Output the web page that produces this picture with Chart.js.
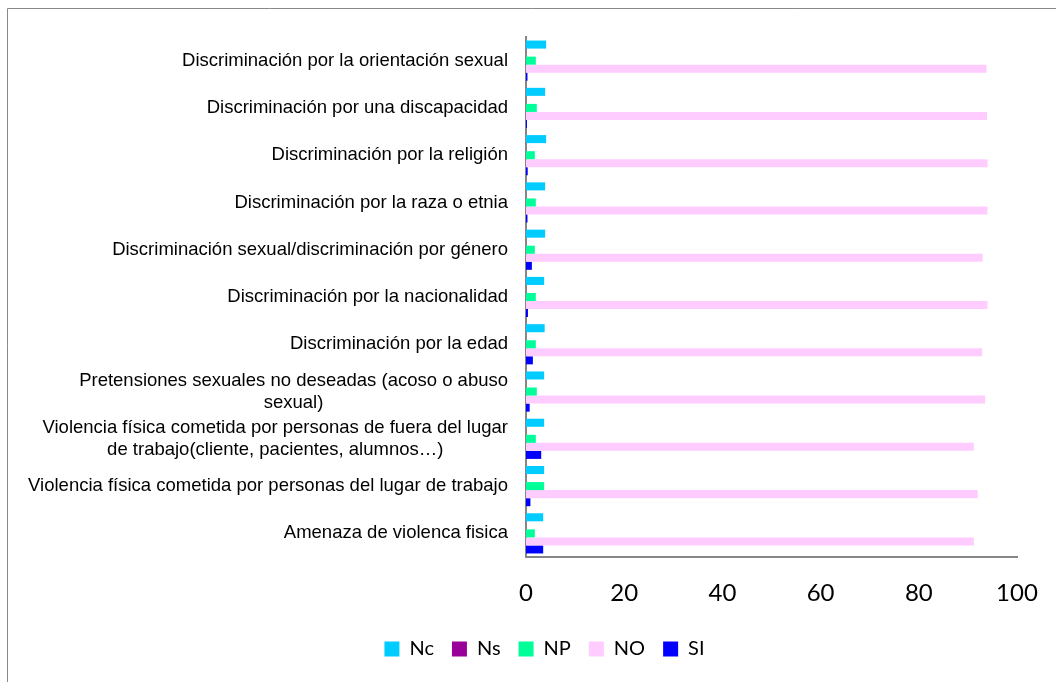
<!DOCTYPE html>
<html>
<head>
<meta charset="utf-8">
<script src="https://cdn.jsdelivr.net/npm/chart.js@4/dist/chart.umd.min.js"></script>
<style>
  html, body { margin: 0; padding: 0; background: #fff; }
  #wrap { position: relative; width: 1056px; height: 682px; }
</style>
</head>
<body>
<div id="wrap"><canvas id="c"></canvas></div>
<script>
// Categories, top to bottom
const categories = [
  'Discriminación por la orientación sexual',
  'Discriminación por una discapacidad',
  'Discriminación por la religión',
  'Discriminación por la raza o etnia',
  'Discriminación sexual/discriminación por género',
  'Discriminación por la nacionalidad',
  'Discriminación por la edad',
  ['Pretensiones sexuales no deseadas (acoso o abuso', 'sexual)'],
  ['Violencia física cometida por personas de fuera del lugar', 'de trabajo(cliente, pacientes, alumnos…)'],
  'Violencia física cometida por personas del lugar de trabajo',
  'Amenaza de violenca fisica'
];

// Series values (%)
const ncValues = [4.1, 3.9, 4.1, 3.9, 3.9, 3.7, 3.8, 3.7, 3.7, 3.7, 3.5];
const nsValues = [0, 0, 0, 0, 0, 0, 0, 0, 0, 0, 0];
const npValues = [2.0, 2.2, 1.8, 2.0, 1.8, 2.0, 2.0, 2.2, 2.0, 3.7, 1.8];
const noValues = [93.8, 93.9, 94.0, 94.0, 93.0, 94.0, 92.9, 93.5, 91.2, 92.0, 91.2];
const siValues = [0.3, 0.2, 0.35, 0.3, 1.2, 0.4, 1.4, 0.75, 3.1, 0.9, 3.5];

const seriesNames = ['Nc', 'Ns', 'NP', 'NO', 'SI'];
const xTicks = [0, 20, 40, 60, 80, 100];

const colors = ['#00CCFF', '#990099', '#00FF99', '#FFCCFF', '#0000FF'];
const seriesValues = [ncValues, nsValues, npValues, noValues, siValues];

// Outer frame of the chart object
const framePlugin = {
  id: 'frame',
  beforeDraw(chart) {
    const ctx = chart.ctx;
    ctx.save();
    ctx.strokeStyle = '#888888';
    ctx.lineWidth = 1;
    ctx.beginPath();
    ctx.moveTo(7.5, chart.height);
    ctx.lineTo(7.5, 8.5);
    ctx.lineTo(chart.width, 8.5);
    ctx.stroke();
    ctx.restore();
  }
};

// Category labels: right-aligned blocks, wrapped lines centred within a block
const categoryLabelPlugin = {
  id: 'categoryLabels',
  afterDraw(chart) {
    const ctx = chart.ctx;
    const yScale = chart.scales.y;
    const right = chart.chartArea.left - 18;
    const lh = 22;
    ctx.save();
    ctx.font = '18.5px "Liberation Sans", Arial, sans-serif';
    ctx.fillStyle = '#000000';
    ctx.textBaseline = 'middle';
    ctx.textAlign = 'center';
    categories.forEach((label, i) => {
      const lines = Array.isArray(label) ? label : [label];
      const widest = Math.max(...lines.map(l => ctx.measureText(l).width));
      const cx = right - widest / 2;
      const cy = yScale.getPixelForValue(i);
      lines.forEach((line, k) => {
        ctx.fillText(line, cx, cy - (lines.length - 1) * lh / 2 + k * lh);
      });
    });
    ctx.restore();
  }
};

new Chart(document.getElementById('c'), {
  type: 'bar',
  data: {
    labels: categories.map(c => Array.isArray(c) ? c.join(' ') : c),
    datasets: seriesNames.map((name, i) => ({
      label: name,
      data: seriesValues[i],
      backgroundColor: colors[i],
      borderWidth: 0,
      categoryPercentage: 0.85,
      barPercentage: 1.0
    }))
  },
  options: {
    indexAxis: 'y',
    responsive: true,
    maintainAspectRatio: false,
    animation: false,
    layout: { padding: { left: 72, top: 37, right: 39, bottom: 13 } },
    scales: {
      y: {
        grid: { display: false, drawTicks: false },
        border: { display: true, color: '#868686', width: 2 },
        ticks: { display: false },
        afterFit(scale) { scale.width = 454; }
      },
      x: {
        min: 0,
        max: 100,
        afterBuildTicks(scale) { scale.ticks = xTicks.map(v => ({ value: v })); },
        grid: { display: false, drawTicks: false },
        border: { display: true, color: '#868686', width: 2 },
        ticks: {
          color: '#000000',
          padding: 22,
          maxRotation: 0,
          font: { family: 'Lato, "Open Sans", sans-serif', size: 24 }
        },
        afterFit(scale) {
          scale.height = 64;
          scale.paddingLeft = 0;
          scale.paddingRight = 0;
        }
      }
    },
    plugins: {
      legend: {
        position: 'bottom',
        labels: {
          boxWidth: 15,
          boxHeight: 15,
          padding: 18,
          color: '#000000',
          font: { family: 'Lato, "Open Sans", sans-serif', size: 20 }
        }
      },
      tooltip: { enabled: false }
    }
  },
  plugins: [framePlugin, categoryLabelPlugin]
});
</script>
</body>
</html>
